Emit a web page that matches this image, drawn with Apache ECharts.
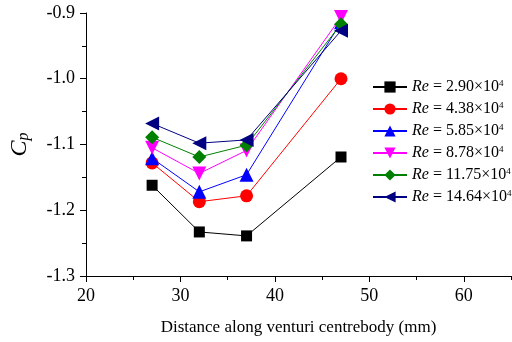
<!DOCTYPE html>
<html><head><meta charset="utf-8">
<script src="https://cdn.jsdelivr.net/npm/echarts@6/dist/echarts.min.js"></script>
<style>html,body{margin:0;padding:0;background:#fff}#c{width:512px;height:342px}</style>
</head><body><div id="c"></div>
<script>
const xValues = [27, 32, 37, 47];
const seriesNames = ['2.90', '4.38', '5.85', '8.78', '11.75', '14.64'];
const re290 = [-1.162, -1.233, -1.239, -1.119];
const re438 = [-1.128, -1.187, -1.178, -1.000];
const re585 = [-1.121, -1.172, -1.146, -0.914];
const re878 = [-1.105, -1.144, -1.109, -0.906];
const re1175 = [-1.089, -1.119, -1.101, -0.917];
const re1464 = [-1.068, -1.098, -1.093, -0.927];
const allValues = [re290, re438, re585, re878, re1175, re1464];
const colors = ['#000000', '#ff0000', '#0000ff', '#ff00ff', '#008000', '#000080'];
const symbols = ['rect', 'circle', 'triangle', 'triangle', 'diamond', 'triangle'];
const rotates = [0, 0, 0, 180, 0, 90];
const sizes = [11, 13, 14, 14, 14, 14];
const font = 'Liberation Serif';

const chart = echarts.init(document.getElementById('c'));
const series = seriesNames.map((n, i) => ({
  name: n,
  type: 'line',
  data: xValues.map((x, j) => [x, allValues[i][j]]),
  symbol: symbols[i],
  symbolSize: sizes[i],
  symbolRotate: rotates[i],
  itemStyle: {color: colors[i]},
  lineStyle: {color: colors[i], width: 1},
  z: 2 + i
}));
const tickStyle = {color: '#000', width: 1};
chart.setOption({
  animation: false,
  grid: {left: 84, right: 1, top: 13, bottom: 66},
  legend: {
    orient: 'vertical', left: 372, top: 79, itemGap: 6, padding: 0,
    itemWidth: 34, itemHeight: 14,
    data: seriesNames.map((n, i) => ({name: n, itemStyle: {color: colors[i]}})),
    formatter: n => '{i|Re} = ' + n + '×10{s|4}',
    textStyle: {
      fontFamily: font, fontSize: 16, color: '#000', lineHeight: 16,
      rich: {
        i: {fontFamily: font, fontStyle: 'italic', fontSize: 16, color: '#000'},
        s: {fontFamily: font, fontSize: 9, color: '#000', verticalAlign: 'top', lineHeight: 16}
      }
    }
  },
  xAxis: [{
    type: 'value', min: 20, max: 65, interval: 10,
    name: 'Distance along venturi centrebody (mm)', nameLocation: 'middle', nameGap: 43,
    nameTextStyle: {fontFamily: font, fontSize: 17, color: '#000'},
    axisLine: {lineStyle: {color: '#000', width: 1}},
    axisTick: {show: true, inside: false, length: 6, lineStyle: tickStyle},
    axisLabel: {fontFamily: font, fontSize: 18, color: '#000', margin: 11, showMaxLabel: false},
    splitLine: {show: false}
  }, {
    type: 'value', min: 20, max: 65, interval: 5, position: 'bottom', gridIndex: 0,
    axisLine: {show: false},
    axisTick: {show: true, inside: false, length: 4, lineStyle: tickStyle},
    axisLabel: {show: false},
    splitLine: {show: false}
  }],
  yAxis: [{
    type: 'value', min: -1.3, max: -0.9, interval: 0.1,
    name: '{c|C}{p|p}', nameLocation: 'middle', nameGap: 54, nameRotate: 90,
    nameTextStyle: {
      rich: {
        c: {fontFamily: font, fontStyle: 'italic', fontSize: 24, color: '#000'},
        p: {fontFamily: font, fontStyle: 'italic', fontSize: 16, color: '#000', verticalAlign: 'bottom', padding: [8, 0, 0, 0]}
      }
    },
    axisLine: {show: true, lineStyle: {color: '#000', width: 1}},
    axisTick: {show: true, inside: false, length: 6, lineStyle: tickStyle},
    axisLabel: {fontFamily: font, fontSize: 18, color: '#000', margin: 11, formatter: v => v.toFixed(1)},
    splitLine: {show: false}
  }, {
    type: 'value', min: -1.3, max: -0.9, interval: 0.05, position: 'left', gridIndex: 0,
    axisLine: {show: false},
    axisTick: {show: true, inside: false, length: 4, lineStyle: tickStyle},
    axisLabel: {show: false},
    splitLine: {show: false}
  }],
  series: series
});
</script></body></html>
